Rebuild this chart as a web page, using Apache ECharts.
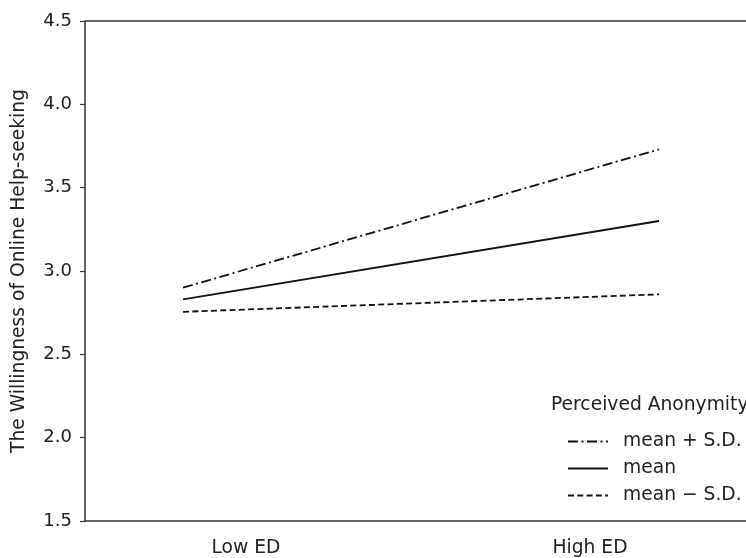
<!DOCTYPE html>
<html>
<head>
<meta charset="utf-8">
<script src="https://cdn.jsdelivr.net/npm/echarts@6/dist/echarts.min.js"></script>
<style>
html,body{margin:0;padding:0;background:#fff;}
#main{width:746px;height:558px;}
</style>
</head>
<body>
<div id="main"></div>
<script>
// data
var xPoints = [0, 1];
var xTickPos = [0.132, 0.855];
var xTickLabels = ['Low ED', 'High ED'];
var seriesNames = ['mean + S.D.', 'mean', 'mean \u2212 S.D.'];
var plusSD = [2.90, 3.73];
var meanVal = [2.83, 3.30];
var minusSD = [2.755, 2.86];
var yTicks = [1.5, 2.0, 2.5, 3.0, 3.5, 4.0, 4.5];

function pairs(ys){
    var out = [];
    for(var i=0;i<xPoints.length;i++){
        out.push([xPoints[i], ys[i]]);
    }
    return out;
}

var font = 'DejaVu Sans';
var ink = '#222';
var fs = 18.7;

var myChart = echarts.init(document.getElementById('main'));

function lineSeries(name, ys, dash){
    return {
        name: name,
        type: 'line',
        symbol: 'none',
        silent: true,
        color: '#111',
        data: pairs(ys),
        lineStyle: {color: '#111', width: 1.8, type: dash}
    };
}

var option = {
    animation: false,
    backgroundColor: '#fff',
    title: {
        text: 'Perceived Anonymity',
        left: 551,
        top: 396,
        padding: 0,
        textStyle: {fontFamily: font, fontSize: fs, fontWeight: 'normal', color: ink}
    },
    legend: {
        orient: 'vertical',
        left: 567,
        top: 432,
        itemWidth: 40,
        itemHeight: 16,
        itemGap: 8,
        padding: 0,
        data: seriesNames,
        itemStyle: {opacity: 0},
        textStyle: {fontFamily: font, fontSize: fs, color: ink, padding: [0, 0, 0, 10]}
    },
    grid: {left: 85, top: 21, width: 812, bottom: 37, containLabel: false, outerBoundsMode: 'none'},
    xAxis: {
        type: 'value',
        min: -0.206,
        max: 1.5,
        axisLine: {onZero: false, lineStyle: {color: '#333', width: 1.5}},
        axisTick: {show: false},
        splitLine: {show: false},
        axisLabel: {
            customValues: xTickPos,
            margin: 18,
            fontFamily: font, fontSize: fs, color: ink,
            formatter: function(v){
                var idx = xTickPos.indexOf(v);
                return idx >= 0 ? xTickLabels[idx] : '';
            }
        }
    },
    yAxis: {
        type: 'value',
        min: yTicks[0],
        max: yTicks[yTicks.length-1],
        interval: 0.5,
        name: 'The Willingness of Online Help-seeking',
        nameLocation: 'middle',
        nameGap: 56,
        nameTextStyle: {fontFamily: font, fontSize: fs, color: ink},
        axisLine: {show: true, onZero: false, lineStyle: {color: '#333', width: 1.5}},
        axisTick: {show: true, length: 5, lineStyle: {color: '#333', width: 1.2}},
        splitLine: {show: false},
        axisLabel: {
            margin: 13,
            fontFamily: font, fontSize: 18, color: ink,
            formatter: function(v){ return v.toFixed(1); }
        }
    },
    series: [
        lineSeries(seriesNames[0], plusSD, [10, 3.5, 2, 3.5]),
        lineSeries(seriesNames[1], meanVal, 'solid'),
        lineSeries(seriesNames[2], minusSD, [6, 3.3])
    ]
};
myChart.setOption(option, true);

// top spine drawn along the grid's upper edge
var topY = myChart.convertToPixel({yAxisIndex: 0}, yTicks[yTicks.length-1]);
myChart.setOption({
    graphic: [{
        type: 'line',
        silent: true,
        shape: {x1: 85, y1: topY, x2: 746, y2: topY},
        style: {stroke: '#333', lineWidth: 1.5}
    }]
});
</script>
</body>
</html>
